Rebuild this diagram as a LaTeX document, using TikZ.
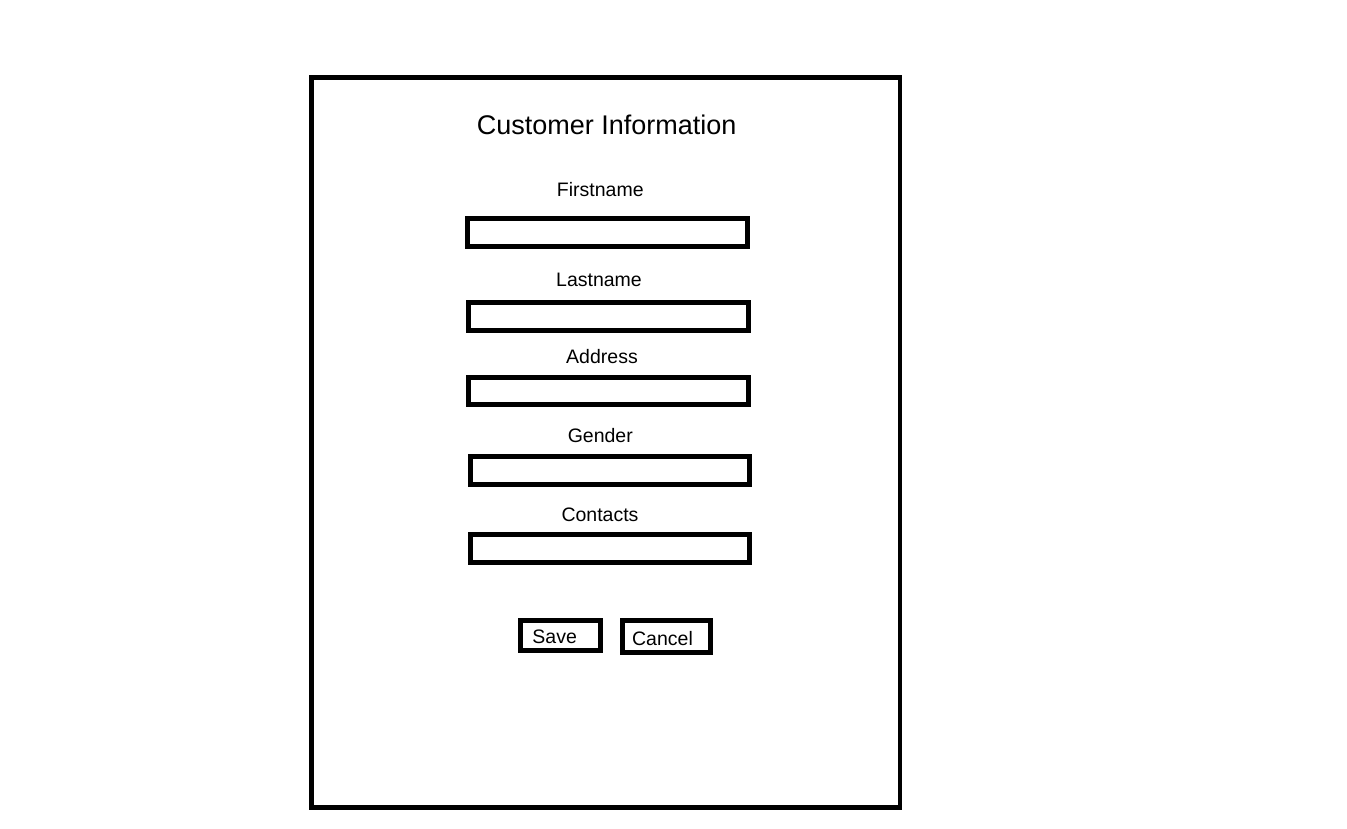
\documentclass[tikz,border=0pt]{standalone}
\usepackage{fontspec}
\setmainfont{Liberation Sans}
\begin{document}
\begin{tikzpicture}[x=1pt,y=-1pt,
  frame/.style={draw=black,line width=4.8pt},
  field/.style={draw=black,line width=5pt},
  lbl/.style={anchor=base,inner sep=0pt,font=\fontsize{19.5}{22}\selectfont},
  ttl/.style={anchor=base,inner sep=0pt,font=\fontsize{27}{30}\selectfont}]
\useasboundingbox (0,0) rectangle (1347,828);
\fill[white] (0,0) rectangle (1347,828);
\draw[frame] (311.7,77.5) rectangle (900,807.5);
\node[ttl] (title) at (606.7,134.3) {Customer Information};

\node[lbl] (lfirst) at (600.3,196.7) {Firstname};
\draw[field] (467.5,218) rectangle (747.5,246.5);
\node[lbl] (llast) at (599,286.7) {Lastname};
\draw[field] (468.5,302) rectangle (748.5,330);
\node[lbl] (laddr) at (602,363.3) {Address};
\draw[field] (468.5,377) rectangle (748.5,404.8);
\node[lbl] (lgen) at (600.3,442.7) {Gender};
\draw[field] (470,456) rectangle (749,484);
\node[lbl] (lcont) at (600,521.7) {Contacts};
\draw[field] (470,534.5) rectangle (749,562.5);

\draw[field] (520,620) rectangle (600,650);
\node[lbl] (save) at (554.7,643.3) {Save};
\draw[field] (622.5,620) rectangle (710,652);
\node[lbl] (cancel) at (662.5,645.7) {Cancel};
\end{tikzpicture}
\end{document}
